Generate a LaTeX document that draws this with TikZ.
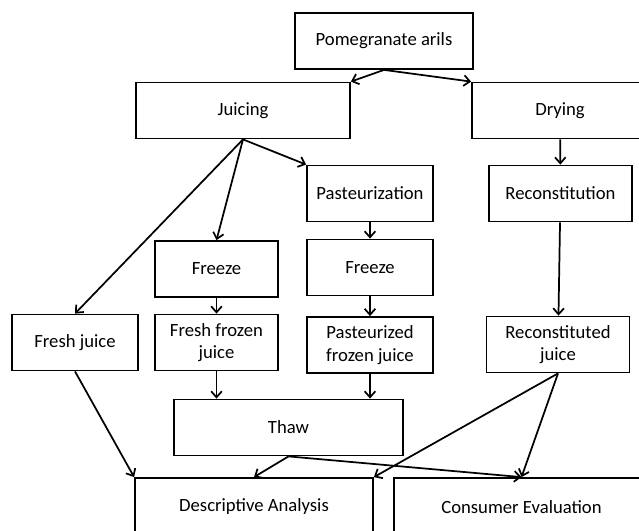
\documentclass[tikz,border=0pt]{standalone}
\usepackage{fontspec}
\setmainfont{Carlito}
\usetikzlibrary{arrows.meta}

\begin{document}
\begin{tikzpicture}[
    x=0.75pt, y=-0.75pt,
    >={Straight Barb[length=4.5pt,width=8pt]},
    stage/.style={draw, line width=1.35pt, fill=white, align=center,
        minimum height=42pt, inner sep=2pt,
        font=\fontsize{14}{17}\selectfont},
    flow/.style={->, line width=1.3pt},
]
\path[use as bounding box] (0,0) rectangle (639,531);
\clip (0,0) rectangle (639,531);

% raw material and the two routes
\node[stage, minimum width=133.5pt] (arils) at (384,41) {Pomegranate arils};
\node[stage, minimum width=160.5pt] (juicing) at (243,110.5) {Juicing};
\node[stage, minimum width=132pt] (drying) at (560,110.5) {Drying};

% juice branch
\node[stage, minimum width=94.5pt] (pasteur) at (370,193.5) {Pasteurization};
\node[stage, minimum width=92.25pt] (freezeA) at (216.5,269) {Freeze};
\node[stage, minimum width=94.5pt] (freezeB) at (370,267.5) {Freeze};
\node[stage, minimum width=94.5pt] (freshjuice) at (75,342.5) {Fresh juice};
\node[stage, minimum width=92.25pt] (freshfrozen) at (216.5,342.5) {Fresh frozen\\juice};
\node[stage, minimum width=94.5pt] (pastfrozen) at (370,345) {Pasteurized\\frozen juice};
\node[stage, minimum width=171.75pt] (thaw) at (288.5,427.5) {Thaw};

% dried branch
\node[stage, minimum width=107.25pt] (recon) at (560.5,193.5) {Reconstitution};
\node[stage, minimum width=107.25pt] (reconjuice) at (558,344.5) {Reconstituted\\juice};

% evaluation
\node[stage, minimum width=178.5pt, minimum height=43.5pt] (descr) at (254,507) {Descriptive Analysis};
\node[stage, minimum width=191.25pt, minimum height=43.5pt] (consumer) at (521.5,507) {Consumer Evaluation};

\draw[flow] (arils.south) -- (juicing.north east);
\draw[flow] (arils.south) -- (drying.north west);
\draw[flow] (juicing.south) -- (freshjuice.north);
\draw[flow] (juicing.south) -- (freezeA.north);
\draw[flow] (juicing.south) -- (pasteur.north west);
\draw[flow] (drying) -- (recon);
\draw[flow] (pasteur) -- (freezeB);
\draw[flow] (freezeB) -- (pastfrozen);
\draw[flow] (freezeA) -- (freshfrozen);
\draw[flow] (recon) -- (reconjuice);
\draw[flow] (freshfrozen.south) -- (freshfrozen.south |- thaw.north);
\draw[flow] (pastfrozen.south) -- (pastfrozen.south |- thaw.north);
\draw[flow] (freshjuice.south) -- (descr.north west);
\draw[flow] (thaw.south) -- (descr.north);
\draw[flow] (thaw.south) -- (consumer.north);
\draw[flow] (reconjuice.south) -- (descr.north east);
\draw[flow] (reconjuice.south) -- (consumer.north);
\end{tikzpicture}
\end{document}
